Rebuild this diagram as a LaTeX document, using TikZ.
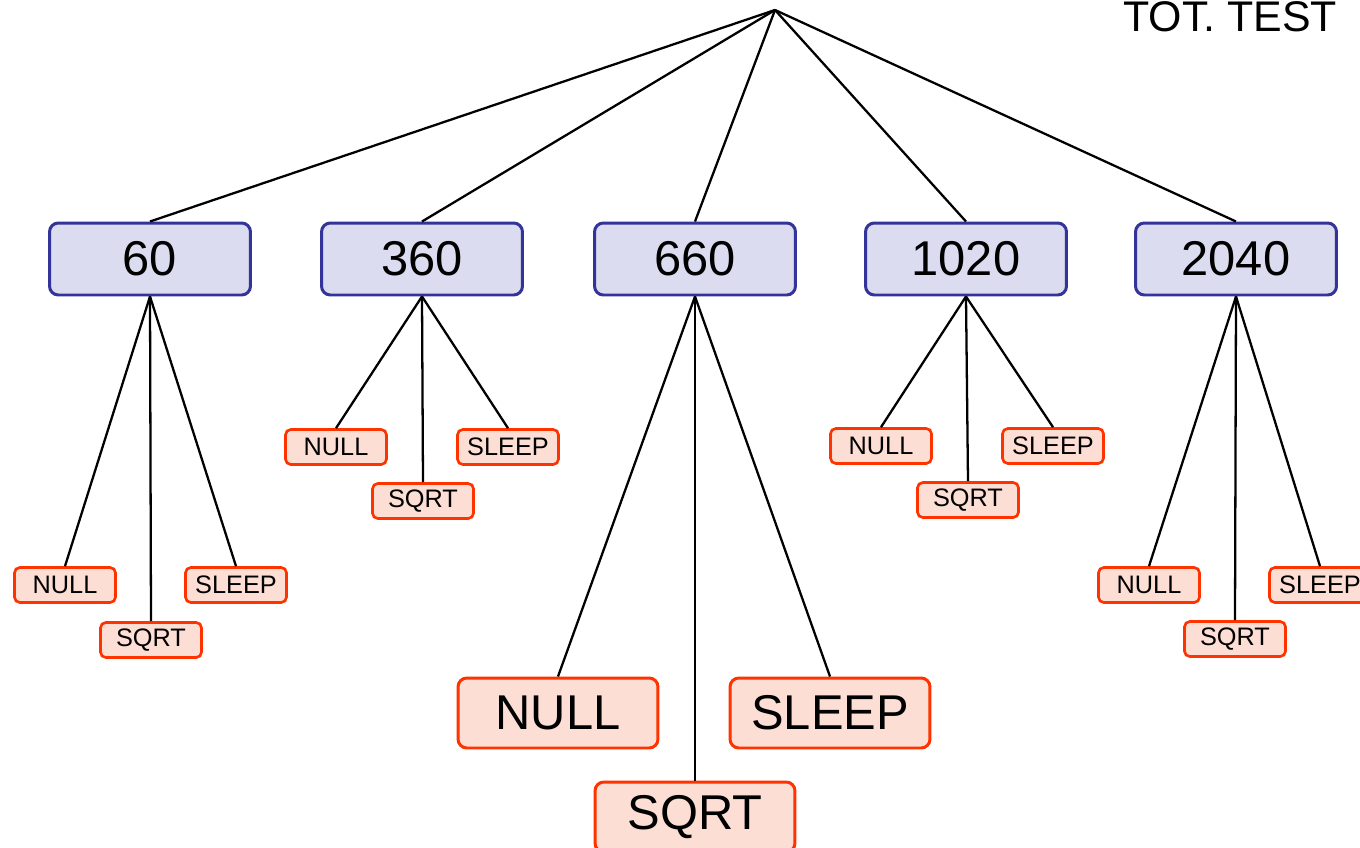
\documentclass[tikz,border=0pt]{standalone}
\usepackage{fontspec}
\setmainfont{Liberation Sans}
\definecolor{bluefill}{RGB}{220,220,240}
\definecolor{blueline}{RGB}{51,51,153}
\definecolor{redfill}{RGB}{252,222,212}
\definecolor{redline}{RGB}{255,51,0}
\tikzset{
  lvlone/.style={draw=blueline, fill=bluefill, line width=1.7pt, rounded corners=5pt,
    minimum width=4.02cm, minimum height=1.44cm, inner sep=0pt,
    font=\fontsize{27.8}{30}\selectfont},
  smallbox/.style={draw=redline, fill=redfill, line width=1.5pt, rounded corners=3pt,
    minimum width=2.02cm, minimum height=0.7cm, inner sep=0pt,
    font=\fontsize{14.4}{16}\selectfont},
  bigbox/.style={draw=redline, fill=redfill, line width=1.7pt, rounded corners=5pt,
    minimum width=4cm, minimum height=1.4cm, inner sep=0pt,
    font=\fontsize{27.8}{30}\selectfont},
  conn/.style={line width=1.3pt, black}
}
\begin{document}
\begin{tikzpicture}[x=0.02cm, y=-0.02cm]
\useasboundingbox (0,0) rectangle (1360,848);
\clip (0,0) rectangle (1360,848);
\coordinate (root) at (775,10);
\node[anchor=base west, font=\fontsize{24.4}{26}\selectfont, inner sep=0pt] (tot) at (1123,32) {TOT. TEST};
% level one
\node[lvlone] (a) at (150,259) {60};
\node[lvlone] (b) at (422,259) {360};
\node[lvlone] (c) at (695,259) {660};
\node[lvlone] (d) at (966,259) {1020};
\node[lvlone] (e) at (1236,259) {2040};
\foreach \n in {a,b,c,d,e} \draw[conn] (root) -- (\n.north);
% 60
\node[smallbox] (a1) at (65,585) {NULL};
\node[smallbox] (a2) at (151,640) {SQRT};
\node[smallbox] (a3) at (236,585) {SLEEP};
% 360
\node[smallbox] (b1) at (336,447) {NULL};
\node[smallbox] (b2) at (423,501) {SQRT};
\node[smallbox] (b3) at (508,447) {SLEEP};
% 660
\node[bigbox] (c1) at (558,713) {NULL};
\node[bigbox] (c2) at (695,817) {SQRT};
\node[bigbox] (c3) at (830,713) {SLEEP};
% 1020
\node[smallbox] (d1) at (881,446) {NULL};
\node[smallbox] (d2) at (968,500) {SQRT};
\node[smallbox] (d3) at (1053,446) {SLEEP};
% 2040
\node[smallbox] (e1) at (1149,585) {NULL};
\node[smallbox] (e2) at (1235,639) {SQRT};
\node[smallbox] (e3) at (1320,585) {SLEEP};
\foreach \p in {a,b,c,d,e}
  \foreach \k in {1,2,3}
    \draw[conn] (\p.south) -- (\p\k.north);
\end{tikzpicture}
\end{document}
